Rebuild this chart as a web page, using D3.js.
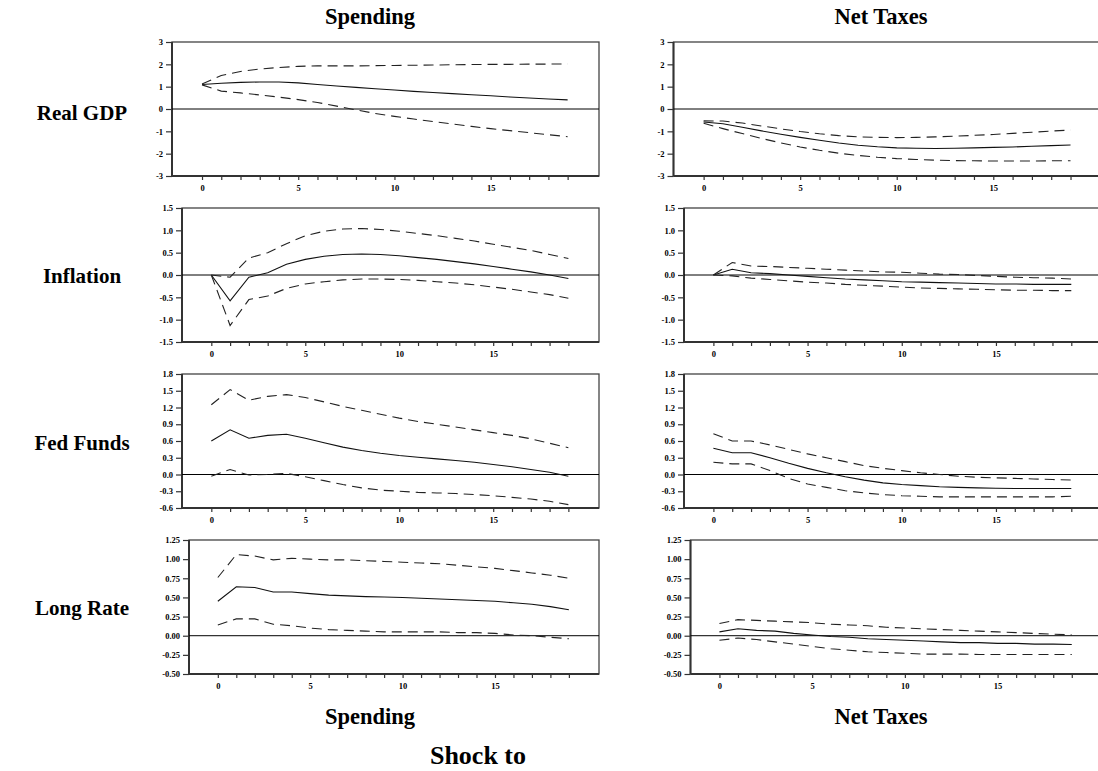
<!DOCTYPE html>
<html>
<head>
<meta charset="utf-8">
<script src="https://cdn.jsdelivr.net/npm/d3@7"></script>
<style>
  body { margin: 0; background: #fff; }
  text { font-family: "Liberation Serif", "Times New Roman", serif; font-weight: bold; fill: #000; }
</style>
</head>
<body>
<svg id="chart" width="1098" height="771"></svg>
<script>
// Impulse responses (median and error bands) over 20 quarters
const horizons = d3.range(0, 20);
const shocks = ["Spending", "Net Taxes"];
const responses = ["Real GDP", "Inflation", "Fed Funds", "Long Rate"];

// y-axis tick values for each response row
const gdpTicks = [-3, -2, -1, 0, 1, 2, 3];
const inflTicks = [-1.5, -1.0, -0.5, 0.0, 0.5, 1.0, 1.5];
const fedTicks = [-0.6, -0.3, 0.0, 0.3, 0.6, 0.9, 1.2, 1.5, 1.8];
const longTicks = [-0.5, -0.25, 0.0, 0.25, 0.5, 0.75, 1.0, 1.25];
const xLabelTicks = [0, 5, 10, 15];

// Real GDP
const gdpSpendMid = [1.10, 1.15, 1.19, 1.21, 1.21, 1.17, 1.10, 1.03, 0.97, 0.91, 0.85, 0.79, 0.74, 0.69, 0.64, 0.59, 0.54, 0.49, 0.45, 0.41];
const gdpSpendHi  = [1.12, 1.50, 1.68, 1.79, 1.86, 1.91, 1.93, 1.93, 1.93, 1.94, 1.95, 1.96, 1.97, 1.98, 1.99, 2.00, 2.00, 2.01, 2.01, 2.02];
const gdpSpendLo  = [1.08, 0.80, 0.72, 0.63, 0.53, 0.42, 0.29, 0.13, -0.04, -0.20, -0.33, -0.45, -0.56, -0.67, -0.78, -0.88, -0.97, -1.06, -1.15, -1.24];
const gdpTaxMid = [-0.58, -0.66, -0.82, -0.98, -1.13, -1.27, -1.40, -1.52, -1.62, -1.69, -1.74, -1.76, -1.77, -1.76, -1.74, -1.72, -1.70, -1.67, -1.64, -1.61];
const gdpTaxHi  = [-0.53, -0.54, -0.63, -0.76, -0.89, -1.01, -1.11, -1.19, -1.25, -1.27, -1.28, -1.27, -1.25, -1.22, -1.18, -1.14, -1.09, -1.04, -0.99, -0.94];
const gdpTaxLo  = [-0.64, -0.88, -1.10, -1.32, -1.52, -1.70, -1.85, -1.98, -2.08, -2.16, -2.22, -2.26, -2.29, -2.31, -2.32, -2.33, -2.33, -2.33, -2.32, -2.32];

// Inflation
const inflSpendMid = [0.00, -0.58, -0.05, 0.05, 0.24, 0.35, 0.42, 0.46, 0.47, 0.46, 0.43, 0.39, 0.35, 0.30, 0.25, 0.19, 0.13, 0.07, 0.00, -0.08];
const inflSpendHi  = [0.00, -0.05, 0.38, 0.50, 0.70, 0.88, 0.98, 1.03, 1.04, 1.02, 0.98, 0.93, 0.88, 0.82, 0.76, 0.69, 0.62, 0.55, 0.46, 0.37];
const inflSpendLo  = [0.00, -1.13, -0.55, -0.47, -0.30, -0.20, -0.15, -0.11, -0.09, -0.09, -0.10, -0.12, -0.15, -0.18, -0.22, -0.27, -0.32, -0.38, -0.44, -0.52];
const inflTaxMid = [0.00, 0.13, 0.05, 0.03, 0.00, -0.03, -0.06, -0.09, -0.11, -0.13, -0.15, -0.16, -0.17, -0.18, -0.19, -0.20, -0.20, -0.21, -0.21, -0.21];
const inflTaxHi  = [0.00, 0.28, 0.20, 0.19, 0.17, 0.15, 0.13, 0.11, 0.09, 0.07, 0.06, 0.04, 0.02, 0.01, -0.01, -0.03, -0.05, -0.06, -0.07, -0.09];
const inflTaxLo  = [0.00, -0.02, -0.07, -0.10, -0.13, -0.16, -0.18, -0.21, -0.23, -0.25, -0.27, -0.29, -0.30, -0.31, -0.32, -0.33, -0.34, -0.34, -0.35, -0.35];

// Federal funds rate
const fedSpendMid = [0.60, 0.80, 0.65, 0.70, 0.72, 0.65, 0.57, 0.49, 0.43, 0.38, 0.34, 0.31, 0.28, 0.25, 0.22, 0.18, 0.14, 0.09, 0.04, -0.03];
const fedSpendHi  = [1.25, 1.52, 1.33, 1.40, 1.43, 1.38, 1.30, 1.22, 1.15, 1.08, 1.01, 0.95, 0.90, 0.85, 0.80, 0.75, 0.70, 0.64, 0.56, 0.48];
const fedSpendLo  = [-0.03, 0.09, -0.01, 0.00, 0.02, -0.04, -0.11, -0.18, -0.24, -0.28, -0.30, -0.32, -0.33, -0.34, -0.36, -0.38, -0.41, -0.44, -0.48, -0.54];
const fedTaxMid = [0.47, 0.39, 0.39, 0.30, 0.20, 0.11, 0.03, -0.04, -0.10, -0.15, -0.18, -0.20, -0.22, -0.23, -0.24, -0.245, -0.25, -0.25, -0.25, -0.25];
const fedTaxHi  = [0.73, 0.60, 0.60, 0.53, 0.45, 0.37, 0.30, 0.23, 0.16, 0.11, 0.07, 0.03, 0.00, -0.03, -0.05, -0.06, -0.07, -0.08, -0.09, -0.10];
const fedTaxLo  = [0.22, 0.19, 0.19, 0.07, -0.07, -0.17, -0.23, -0.29, -0.33, -0.36, -0.38, -0.39, -0.40, -0.40, -0.40, -0.40, -0.40, -0.40, -0.40, -0.39];

// Long-term interest rate
const longSpendMid = [0.45, 0.64, 0.63, 0.57, 0.57, 0.55, 0.53, 0.52, 0.51, 0.505, 0.50, 0.49, 0.48, 0.47, 0.46, 0.45, 0.43, 0.41, 0.38, 0.34];
const longSpendHi  = [0.76, 1.06, 1.04, 0.99, 1.01, 1.00, 0.99, 0.99, 0.98, 0.97, 0.96, 0.95, 0.94, 0.92, 0.90, 0.88, 0.85, 0.82, 0.79, 0.75];
const longSpendLo  = [0.14, 0.22, 0.22, 0.15, 0.13, 0.10, 0.08, 0.07, 0.06, 0.05, 0.05, 0.05, 0.05, 0.04, 0.04, 0.03, 0.01, 0.00, -0.02, -0.04];
const longTaxMid = [0.05, 0.09, 0.07, 0.06, 0.03, 0.01, -0.01, -0.02, -0.04, -0.05, -0.06, -0.07, -0.08, -0.09, -0.09, -0.10, -0.10, -0.11, -0.11, -0.115];
const longTaxHi  = [0.16, 0.21, 0.20, 0.19, 0.18, 0.17, 0.15, 0.14, 0.13, 0.11, 0.10, 0.09, 0.08, 0.07, 0.06, 0.05, 0.04, 0.03, 0.02, 0.01];
const longTaxLo  = [-0.06, -0.03, -0.05, -0.08, -0.11, -0.14, -0.17, -0.19, -0.21, -0.22, -0.23, -0.24, -0.24, -0.24, -0.245, -0.245, -0.245, -0.245, -0.245, -0.245];

// Assemble panel rows from the arrays above
const rows = [
  { ticks: gdpTicks,  fmt: d3.format("d"),   cols: [[gdpSpendMid, gdpSpendHi, gdpSpendLo], [gdpTaxMid, gdpTaxHi, gdpTaxLo]] },
  { ticks: inflTicks, fmt: d3.format(".1f"), cols: [[inflSpendMid, inflSpendHi, inflSpendLo], [inflTaxMid, inflTaxHi, inflTaxLo]] },
  { ticks: fedTicks,  fmt: d3.format(".1f"), cols: [[fedSpendMid, fedSpendHi, fedSpendLo], [fedTaxMid, fedTaxHi, fedTaxLo]] },
  { ticks: longTicks, fmt: d3.format(".2f"), cols: [[longSpendMid, longSpendHi, longSpendLo], [longTaxMid, longTaxHi, longTaxLo]] }
];

// Geometry
const rowTop = [42, 208, 374, 540];
const panelH = 134;
const axisLeft = [[172, 673.5], [182, 684], [182, 684], [189, 690.5]];
const panelRight = [599, 1102];
const xDomain = [-1.56, 20.63];
const colCenter = [370, 881];
const rowLabelX = 82;
const rowLabelY = [120, 283, 450, 615];

const svg = d3.select("#chart");
const fmtMinus = s => s.replace("−", "-");

rows.forEach((row, r) => {
  const top = rowTop[r], bottom = top + panelH;
  const y = d3.scaleLinear().domain(d3.extent(row.ticks)).range([bottom, top]);

  row.cols.forEach((series, c) => {
    const x = d3.scaleLinear().domain(xDomain).range([axisLeft[r][c], panelRight[c]]);
    const g = svg.append("g");

    // frame
    g.append("rect")
      .attr("x", x.range()[0]).attr("y", top)
      .attr("width", x.range()[1] - x.range()[0]).attr("height", panelH)
      .attr("fill", "none").attr("stroke", "#444").attr("stroke-width", 1.3);

    // y axis
    const ya = g.append("g").attr("color", "#000").attr("transform", `translate(${x.range()[0]},0)`)
      .call(d3.axisLeft(y).tickValues(row.ticks).tickSize(6).tickPadding(3)
        .tickFormat(d => fmtMinus(row.fmt(d))));
    ya.select(".domain").remove();
    ya.selectAll("line").attr("stroke", "#333").attr("stroke-width", 1.2);
    ya.selectAll("text").style("font-size", "8.5px");

    // x axis
    const xa = g.append("g").attr("color", "#000").attr("transform", `translate(0,${bottom})`)
      .call(d3.axisBottom(x).tickValues(horizons).tickSize(4).tickPadding(5)
        .tickFormat(d => xLabelTicks.includes(d) ? d : ""));
    xa.select(".domain").remove();
    xa.selectAll("line").attr("stroke", "#333").attr("stroke-width", 1.2);
    xa.selectAll("text").style("font-size", "8.5px");

    // heavier left and bottom axis lines
    g.append("line").attr("x1", x.range()[0]).attr("x2", x.range()[0])
      .attr("y1", top).attr("y2", bottom).attr("stroke", "#333").attr("stroke-width", 2);
    g.append("line").attr("x1", x.range()[0]).attr("x2", x.range()[1])
      .attr("y1", bottom).attr("y2", bottom).attr("stroke", "#333").attr("stroke-width", 2);

    // zero line
    g.append("line").attr("x1", x.range()[0]).attr("x2", x.range()[1])
      .attr("y1", y(0)).attr("y2", y(0)).attr("stroke", "#000").attr("stroke-width", 1);

    const line = d3.line().x((d, i) => x(horizons[i])).y(d => y(d));
    const [mid, hi, lo] = series;
    g.append("path").datum(mid).attr("d", line)
      .attr("fill", "none").attr("stroke", "#111").attr("stroke-width", 1.1);
    [hi, lo].forEach(band => {
      g.append("path").datum(band).attr("d", line)
        .attr("fill", "none").attr("stroke", "#222").attr("stroke-width", 1.1)
        .attr("stroke-dasharray", "10,6");
    });
  });

  // row label
  svg.append("text").attr("x", rowLabelX).attr("y", rowLabelY[r])
    .attr("text-anchor", "middle").style("font-size", "21px").text(responses[r]);
});

// column titles above and below
shocks.forEach((s, c) => {
  svg.append("text").attr("x", colCenter[c]).attr("y", 24)
    .attr("text-anchor", "middle").style("font-size", "22.5px").text(s);
  svg.append("text").attr("x", colCenter[c]).attr("y", 724)
    .attr("text-anchor", "middle").style("font-size", "22.5px").text(s);
});

svg.append("text").attr("x", 478).attr("y", 764)
  .attr("text-anchor", "middle").style("font-size", "26px").text("Shock to");
</script>
</body>
</html>
